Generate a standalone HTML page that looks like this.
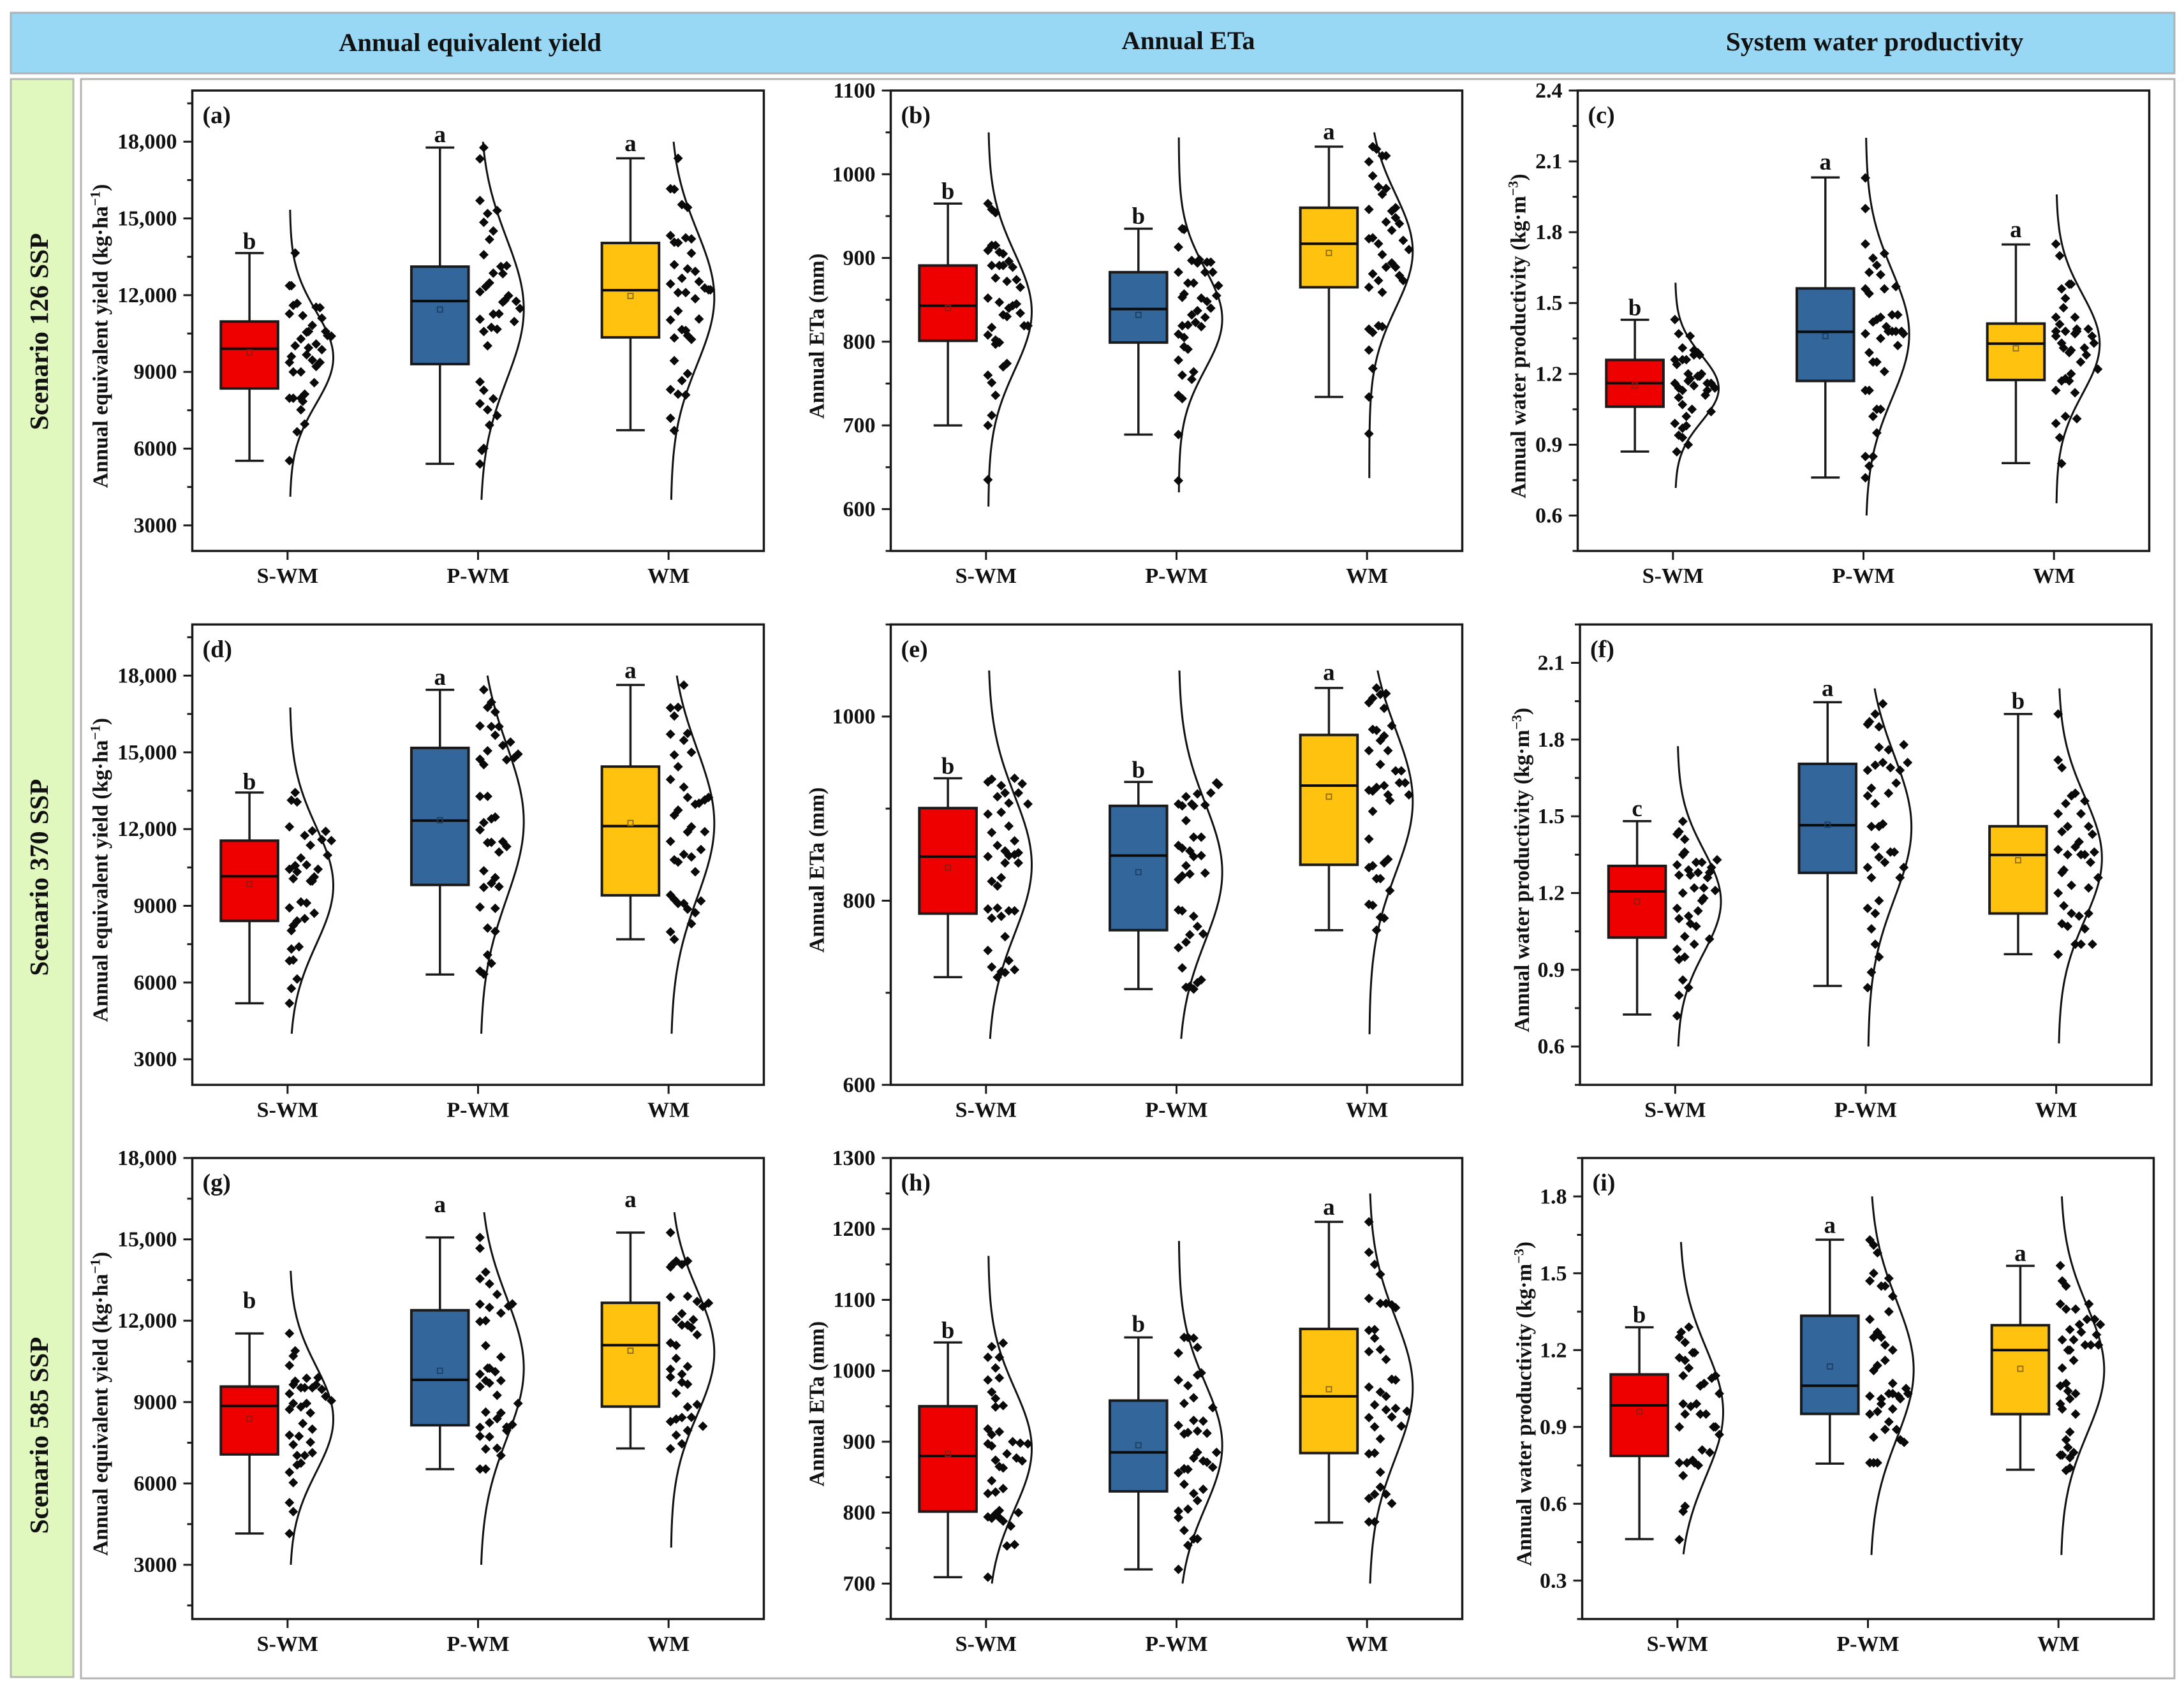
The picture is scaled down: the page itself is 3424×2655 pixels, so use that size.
<!DOCTYPE html>
<html lang="en">
<head>
<meta charset="utf-8">
<title>Annual equivalent yield, ETa and system water productivity by scenario</title>
<style>
html,body{margin:0;padding:0;background:#fff}
svg{display:block}
text{font-family:"Liberation Serif",serif;font-weight:bold;fill:#111}
</style>
</head>
<body>
<svg id="figure" xmlns="http://www.w3.org/2000/svg" width="3424" height="2655" viewBox="0 0 3424 2655">
<rect x="0" y="0" width="3424" height="2655" fill="#fff"/>
<rect x="17" y="20" width="3392" height="95" fill="#98d8f5" stroke="#a9b3b8" stroke-width="3"/>
<text x="737" y="80" font-size="40.5" text-anchor="middle">Annual equivalent yield</text>
<text x="1863" y="77" font-size="40.5" text-anchor="middle">Annual ETa</text>
<text x="2939" y="79" font-size="41.5" text-anchor="middle">System water productivity</text>
<rect x="17" y="124" width="98" height="2506" fill="#e0f7bd" stroke="#b4bcb0" stroke-width="3"/>
<text transform="translate(75,520) rotate(-90)" font-size="41.5" text-anchor="middle">Scenario 126 SSP</text>
<text transform="translate(75,1376) rotate(-90)" font-size="41.5" text-anchor="middle">Scenario 370 SSP</text>
<text transform="translate(75,2251) rotate(-90)" font-size="41.5" text-anchor="middle">Scenario 585 SSP</text>
<rect x="127" y="124" width="3282" height="2508" fill="#fff" stroke="#b4b4b4" stroke-width="3"/>
<g id="panels"></g>
</svg>
<script>
// Shared category data
const categories = ['S-WM', 'P-WM', 'WM'];
const boxColors = ['#ee0000', '#33669a', '#ffc20e'];
const meanColors = ['#8e1a10', '#1c3f66', '#8a6a12'];
const yieldTitle = ['Annual equivalent yield (kg·ha', '−1'];
const etaTitle = ['Annual ETa (mm)', ''];
const wpTitle = ['Annual water productivity (kg·m', '−3'];

// Axis ticks and ranges
const aRange = [2000, 20000];
const aTicks = [3000, 6000, 9000, 12000, 15000, 18000];
const aTickLabels = ['3000', '6000', '9000', '12,000', '15,000', '18,000'];
const bRange = [550, 1100];
const bTicks = [600, 700, 800, 900, 1000, 1100];
const bTickLabels = ['600', '700', '800', '900', '1000', '1100'];
const cRange = [0.45, 2.4];
const cTicks = [0.6, 0.9, 1.2, 1.5, 1.8, 2.1, 2.4];
const cTickLabels = ['0.6', '0.9', '1.2', '1.5', '1.8', '2.1', '2.4'];
const dRange = [2000, 20000];
const dTicks = [3000, 6000, 9000, 12000, 15000, 18000];
const dTickLabels = ['3000', '6000', '9000', '12,000', '15,000', '18,000'];
const eRange = [600, 1100];
const eTicks = [600, 800, 1000];
const eTickLabels = ['600', '800', '1000'];
const fRange = [0.45, 2.25];
const fTicks = [0.6, 0.9, 1.2, 1.5, 1.8, 2.1];
const fTickLabels = ['0.6', '0.9', '1.2', '1.5', '1.8', '2.1'];
const gRange = [1000, 18000];
const gTicks = [3000, 6000, 9000, 12000, 15000, 18000];
const gTickLabels = ['3000', '6000', '9000', '12,000', '15,000', '18,000'];
const hRange = [650, 1300];
const hTicks = [700, 800, 900, 1000, 1100, 1200, 1300];
const hTickLabels = ['700', '800', '900', '1000', '1100', '1200', '1300'];
const iRange = [0.15, 1.95];
const iTicks = [0.3, 0.6, 0.9, 1.2, 1.5, 1.8];
const iTickLabels = ['0.3', '0.6', '0.9', '1.2', '1.5', '1.8'];

// Box statistics: [whisker low, Q1, median, Q3, whisker high, mean]
const aBoxes = [[5526,8354,9910,10970,13645,9760],[5405,9306,11770,13116,17773,11438],[6720,10350,12194,14040,17350,11970]];
const bBoxes = [[700,801,843,891,965,840],[689,799,839,883,935,832],[734,865,917,960,1033,906]];
const cBoxes = [[.871,1.061,1.161,1.259,1.429,1.151],[.761,1.17,1.378,1.562,2.032,1.36],[.822,1.174,1.328,1.413,1.748,1.308]];
const dBoxes = [[5190,8410,10155,11548,13428,9857],[6313,9817,12333,15173,17445,12346],[7693,9410,12116,14443,17635,12238]];
const eBoxes = [[717,786,848,900.6,933,836],[704,768,849,903,929,831],[768,839,925,980,1031,913]];
const fBoxes = [[.725,1.026,1.206,1.306,1.481,1.167],[.837,1.279,1.465,1.705,1.946,1.467],[.961,1.12,1.349,1.461,1.9,1.328]];
const gBoxes = [[4154,7070,8860,9573,11530,8380],[6526,8146,9820,12386,15070,10156],[7290,8834,11100,12660,15250,10895]];
const hBoxes = [[709,801.5,880,950,1040,883],[720,830,885,958,1047,895],[786,884,964,1059,1210,974]];
const iBoxes = [[.462,.787,.984,1.105,1.289,.96],[.757,.951,1.061,1.334,1.631,1.136],[.733,.95,1.2,1.297,1.529,1.127]];

// Significance letters and the value each is centred on
const aLetters = ['b','a','a'];
const aLetterValues = [14100,18180,17830];
const bLetters = ['b','b','a'];
const bLetterValues = [979.5,950,1048];
const cLetters = ['b','a','a'];
const cLetterValues = [1.48,2.087,1.8];
const dLetters = ['b','a','a'];
const dLetterValues = [13850,17840,18100];
const eLetters = ['b','b','a'];
const eLetterValues = [946,942,1045];
const fLetters = ['c','a','b'];
const fLetterValues = [1.52,1.99,1.95];
const gLetters = ['b','a','a'];
const gLetterValues = [12750,16185,16380];
const hLetters = ['b','b','a'];
const hLetterValues = [1057,1066,1227];
const iLetters = ['b','a','a'];
const iLetterValues = [1.338,1.678,1.568];

// Density curves: [mean, standard deviation, lowest value, highest value]
const aCurves = [[9560,1800,4120,15340],[11450,2760,4000,18000],[11900,2600,4000,18000]];
const bCurves = [[836,70,603,1050],[827,60,620,1044],[908,68,637,1050]];
const cCurves = [[1.138,.14,.717,1.586],[1.367,.27,.6,2.2],[1.326,.21,.652,1.96]];
const dCurves = [[9790,2300,4000,16755],[12290,3000,4000,18000],[12220,2900,4000,18000]];
const eCurves = [[839,75,650,1050],[831,75,650,1050],[908,78,655,1050]];
const fCurves = [[1.167,.2,.6,1.774],[1.457,.28,.6,2.0],[1.336,.24,.612,2.0]];
const gCurves = [[8367,1950,3000,13840],[10250,2600,3000,16000],[10830,2300,3635,16000]];
const hCurves = [[890,85,700,1162],[895,88,700,1183],[976,98,700,1250]];
const iCurves = [[.958,.25,.403,1.622],[1.123,.27,.4,1.8],[1.123,.25,.4,1.8]];

// Scatter points: [horizontal jitter in hundredths of a category step, value]
const aPointsS = [[4,13650],[1,12370],[2,12370],[3,11600],[5,11680],[15,11530],[17,11510],[1,11270],[8,11200],[18,11100],[13,10820],[11,10580],[10,10550],[20,10580],[21,10420],[23,10400],[7,10290],[15,10090],[4,10020],[11,9940],[18,9870],[2,9600],[10,9670],[13,9460],[17,9370],[1,9370],[15,9210],[3,9000],[7,9000],[14,8580],[1,7970],[3,7970],[7,7970],[9,8130],[8,7850],[7,7520],[9,6960],[5,6660],[1,5530]];
const aPointsP = [[3,17770],[1,17330],[1,15700],[5,15190],[10,15310],[3,14850],[8,14510],[6,14180],[3,13580],[15,13150],[12,13120],[8,12860],[13,12840],[6,12480],[4,12330],[1,12130],[16,11980],[14,11790],[13,11730],[20,11760],[22,11480],[8,11260],[11,11270],[1,11060],[19,10970],[7,10740],[10,10670],[3,10580],[5,10020],[1,8610],[3,8280],[8,7950],[1,7760],[5,7520],[10,7290],[6,6920],[3,6010],[2,5930],[1,5400]];
const aPointsW = [[5,17350],[1,16160],[3,16140],[7,15540],[10,15430],[1,14330],[9,14240],[12,14200],[3,14070],[5,14050],[12,13640],[3,13190],[10,13030],[14,12930],[7,12660],[16,12530],[1,12440],[19,12280],[21,12210],[22,12210],[5,12100],[9,12100],[14,11860],[5,11380],[16,11070],[1,11030],[7,10650],[9,10620],[10,10420],[12,10270],[3,10330],[3,9440],[10,8930],[7,8660],[1,8310],[5,8130],[9,8100],[1,7190],[3,6710]];
const bPointsS = [[1,965],[3,958],[5,954],[1,909],[3,915],[5,915],[7,907],[9,905],[3,891],[7,891],[9,891],[12,896],[14,889],[5,876],[11,872],[16,874],[18,865],[1,852],[7,847],[16,845],[14,843],[12,840],[9,832],[11,830],[18,834],[20,819],[22,819],[3,817],[1,808],[5,802],[6,800],[5,797],[7,799],[11,774],[9,770],[1,760],[3,751],[5,736],[3,712],[1,700],[1,635]];
const bPointsP = [[3,935],[4,934],[1,913],[1,883],[8,897],[11,894],[12,898],[16,895],[18,895],[15,883],[19,883],[6,870],[9,870],[22,867],[4,857],[3,853],[21,855],[13,852],[16,848],[11,837],[18,840],[8,832],[15,829],[10,823],[3,819],[6,820],[13,818],[1,809],[4,805],[4,794],[6,791],[1,778],[9,764],[3,760],[8,755],[1,736],[3,732],[1,689],[1,634]];
const bPointsW = [[3,1033],[5,1030],[8,1022],[10,1022],[1,1015],[3,998],[6,985],[10,983],[8,976],[1,958],[13,956],[15,960],[15,948],[10,943],[17,941],[13,933],[1,923],[3,924],[6,917],[19,921],[22,910],[8,904],[13,894],[10,889],[15,889],[3,881],[17,879],[19,873],[6,873],[1,865],[8,859],[1,815],[3,811],[6,819],[8,818],[1,790],[3,768],[1,734],[1,690]];
const cPointsS = [[1,1.43],[3,1.37],[9,1.36],[5,1.31],[11,1.30],[13,1.29],[11,1.28],[14,1.28],[1,1.26],[2,1.24],[5,1.26],[7,1.26],[8,1.20],[15,1.20],[14,1.19],[13,1.19],[9,1.18],[8,1.17],[11,1.15],[18,1.16],[20,1.16],[1,1.16],[3,1.14],[5,1.13],[22,1.14],[18,1.13],[17,1.11],[3,1.10],[5,1.07],[10,1.05],[20,1.04],[7,1.02],[1,.99],[7,.98],[5,.97],[3,.94],[5,.93],[8,.90],[2,.87]];
const cPointsP = [[1,2.03],[1,1.90],[1,1.75],[11,1.71],[5,1.69],[7,1.66],[3,1.63],[9,1.62],[1,1.56],[3,1.54],[11,1.56],[17,1.57],[15,1.45],[18,1.45],[9,1.44],[7,1.43],[5,1.42],[12,1.40],[13,1.38],[15,1.38],[17,1.38],[20,1.38],[21,1.37],[1,1.37],[9,1.35],[18,1.32],[3,1.29],[5,1.25],[7,1.25],[11,1.21],[1,1.13],[3,1.13],[7,1.05],[9,1.05],[5,1.02],[7,.95],[1,.85],[5,.85],[3,.81],[1,.76]];
const cPointsW = [[1,1.75],[3,1.70],[8,1.58],[9,1.58],[4,1.56],[6,1.52],[5,1.48],[11,1.44],[1,1.44],[3,1.41],[12,1.39],[18,1.39],[6,1.38],[1,1.38],[11,1.37],[12,1.38],[20,1.36],[1,1.36],[4,1.33],[21,1.33],[5,1.31],[9,1.30],[16,1.31],[8,1.29],[17,1.28],[14,1.25],[23,1.22],[9,1.20],[6,1.18],[8,1.17],[4,1.17],[1,1.13],[11,1.12],[6,1.02],[12,1.01],[1,.99],[3,.93],[4,.82]];
const dPointsS = [[4,13430],[2,13130],[5,13060],[1,12090],[20,11910],[13,11930],[9,11750],[18,11590],[23,11550],[12,11370],[21,10980],[7,10870],[10,10600],[4,10570],[1,10430],[16,10430],[5,10330],[3,10060],[14,10130],[13,9970],[12,9970],[7,9150],[10,9110],[1,8920],[14,8710],[9,8500],[5,8410],[3,8230],[2,8030],[6,7400],[2,7310],[1,6850],[3,6880],[5,6140],[2,5770],[1,5190]];
const dPointsP = [[3,17450],[7,16960],[5,16760],[9,16580],[1,16030],[7,16010],[11,16010],[9,15670],[17,15400],[13,15270],[21,14930],[19,14790],[5,15060],[15,14710],[1,14730],[3,14520],[1,13280],[5,13280],[9,12470],[7,12400],[3,12250],[1,11970],[5,11470],[7,11480],[13,11510],[15,11320],[11,11100],[3,10370],[9,10100],[7,9880],[3,9720],[11,9750],[1,8950],[9,8900],[5,8130],[9,8000],[5,7080],[7,6750],[1,6450],[3,6330]];
const dPointsW = [[8,17630],[1,16740],[5,16760],[3,16420],[1,15710],[10,15740],[8,15470],[12,15000],[3,14900],[5,14440],[1,13940],[8,13640],[10,13240],[21,13240],[19,13140],[16,13010],[14,12970],[5,12740],[3,12540],[12,12090],[10,11890],[19,11900],[1,11520],[17,11200],[8,11010],[12,10910],[3,10800],[5,10710],[14,10330],[1,9420],[3,9250],[5,9090],[8,9090],[17,9190],[10,8870],[14,8730],[12,8300],[1,7980],[3,7690]];
const ePointsS = [[1,929],[3,932],[15,933],[19,927],[8,925],[10,917],[17,917],[6,913],[12,906],[22,905],[8,896],[1,894],[12,881],[3,874],[15,865],[6,860],[10,854],[17,852],[15,850],[12,849],[1,848],[10,841],[17,841],[8,825],[3,821],[6,816],[1,791],[6,792],[12,789],[15,789],[3,781],[8,783],[10,761],[1,746],[12,735],[3,728],[15,725],[8,723],[10,722],[6,717]];
const ePointsP = [[21,928],[22,926],[11,916],[18,917],[5,913],[1,905],[3,903],[8,905],[9,903],[15,904],[5,887],[9,869],[13,869],[1,860],[3,857],[7,854],[9,848],[13,849],[5,838],[7,829],[15,830],[3,827],[1,823],[1,790],[3,789],[9,783],[11,772],[7,763],[14,764],[5,755],[1,749],[3,727],[13,714],[11,711],[5,706],[7,707],[9,704]];
const ePointsW = [[5,1031],[7,1024],[10,1025],[3,1020],[1,1015],[9,1009],[13,990],[3,986],[5,985],[9,979],[7,974],[1,963],[11,963],[7,948],[15,941],[18,941],[17,928],[20,928],[1,920],[3,919],[5,923],[9,925],[22,915],[11,915],[12,909],[3,897],[1,867],[11,845],[9,841],[3,838],[1,836],[7,824],[5,824],[12,811],[1,796],[3,795],[7,782],[9,781],[5,768]];
const fPointsS = [[4,1.48],[2,1.44],[1,1.43],[5,1.41],[5,1.36],[4,1.35],[22,1.33],[1,1.31],[11,1.32],[14,1.32],[19,1.30],[7,1.29],[12,1.28],[2,1.27],[8,1.27],[18,1.28],[17,1.26],[15,1.22],[10,1.22],[21,1.21],[4,1.20],[15,1.18],[14,1.17],[1,1.14],[12,1.13],[7,1.11],[2,1.10],[8,1.08],[11,1.07],[5,1.03],[18,1.02],[10,1.00],[1,.98],[5,.95],[2,.94],[4,.86],[7,.83],[2,.80],[1,.72]];
const fPointsP = [[9,1.94],[5,1.90],[2,1.87],[1,1.86],[7,1.85],[20,1.78],[7,1.77],[12,1.76],[22,1.71],[9,1.71],[5,1.70],[13,1.69],[1,1.68],[18,1.68],[16,1.63],[3,1.61],[1,1.58],[12,1.59],[5,1.55],[9,1.47],[7,1.46],[3,1.46],[5,1.38],[7,1.34],[15,1.36],[13,1.36],[10,1.32],[20,1.30],[1,1.30],[3,1.26],[18,1.26],[7,1.17],[1,1.14],[5,1.12],[3,1.06],[5,1.00],[7,.95],[3,.89],[1,.83]];
const fPointsW = [[1,1.90],[1,1.72],[3,1.69],[10,1.59],[8,1.58],[15,1.56],[5,1.55],[1,1.51],[13,1.51],[17,1.46],[6,1.46],[3,1.44],[19,1.43],[12,1.40],[10,1.38],[1,1.37],[20,1.36],[6,1.35],[13,1.35],[15,1.35],[18,1.32],[4,1.29],[3,1.28],[22,1.26],[8,1.23],[17,1.22],[1,1.20],[4,1.15],[8,1.12],[12,1.11],[17,1.12],[3,1.08],[6,1.07],[15,1.06],[10,1.00],[13,1.00],[19,1.00],[1,.96]];
const gPointsS = [[1,11530],[4,10890],[3,10700],[1,10350],[16,9900],[10,9880],[4,9770],[3,9640],[7,9530],[9,9530],[13,9530],[15,9640],[1,9310],[18,9470],[20,9210],[23,9050],[3,8950],[7,8820],[10,8950],[1,8730],[12,8600],[8,8210],[13,8000],[1,7780],[6,7740],[3,7430],[12,7520],[13,7130],[9,7030],[5,7030],[7,6750],[5,6680],[1,6410],[3,6030],[1,5290],[3,4960],[1,4150]];
const gPointsP = [[1,15070],[1,14670],[4,13790],[1,13550],[6,13360],[10,12970],[18,12620],[16,12540],[1,12610],[6,12490],[12,12280],[1,11970],[4,12000],[4,11080],[12,10660],[5,10250],[6,10250],[9,10120],[1,10030],[4,9790],[6,9700],[12,9790],[1,9570],[10,9250],[21,8950],[4,8630],[12,8600],[10,8390],[6,8240],[18,8170],[15,8080],[1,8070],[15,7950],[1,7740],[6,7720],[4,7270],[10,7300],[12,7030],[1,6530],[4,6530]];
const gPointsW = [[1,15250],[4,14200],[10,14200],[2,14070],[1,13980],[7,14070],[1,12870],[10,12900],[15,12710],[21,12650],[18,12520],[7,12260],[13,12040],[4,12050],[7,11840],[10,11840],[12,11740],[15,11480],[1,11180],[4,11090],[4,10610],[10,10310],[1,10210],[1,9920],[7,10030],[7,9730],[10,9660],[4,9330],[15,8910],[10,8820],[12,8440],[7,8430],[4,8370],[1,8280],[18,8110],[10,7950],[4,7780],[7,7460],[1,7280]];
const hPointsS = [[9,1039],[3,1034],[1,1019],[7,1019],[5,1004],[1,987],[7,990],[3,970],[5,961],[5,949],[9,951],[1,918],[7,914],[3,910],[14,900],[18,898],[22,897],[1,897],[3,894],[11,883],[16,877],[5,874],[19,873],[7,865],[9,863],[3,845],[9,834],[5,829],[1,827],[17,800],[7,803],[5,798],[1,794],[3,792],[7,793],[9,788],[13,781],[11,753],[15,755],[1,709]];
const hPointsP = [[4,1047],[6,1047],[9,1046],[11,1033],[1,1025],[13,997],[11,994],[1,987],[6,979],[9,962],[4,954],[19,948],[9,930],[14,929],[1,923],[11,915],[4,911],[6,913],[16,912],[11,885],[21,885],[9,877],[14,873],[16,871],[19,864],[4,862],[6,861],[1,856],[4,840],[14,833],[9,827],[11,817],[6,805],[1,802],[1,793],[4,775],[9,763],[11,763],[6,754],[1,720]];
const hPointsW = [[1,1210],[1,1167],[4,1150],[7,1136],[1,1102],[7,1095],[10,1095],[13,1093],[15,1089],[1,1057],[4,1058],[4,1046],[1,1027],[7,1030],[10,1016],[13,988],[15,987],[1,977],[7,970],[10,964],[4,952],[15,947],[10,945],[21,943],[1,934],[13,935],[4,921],[18,922],[7,904],[1,883],[4,884],[7,857],[7,836],[4,826],[1,820],[10,826],[13,813],[1,787],[4,787]];
const iPointsS = [[6,1.29],[2,1.27],[1,1.25],[4,1.23],[9,1.19],[8,1.19],[1,1.17],[4,1.16],[6,1.13],[3,1.10],[20,1.10],[18,1.09],[14,1.07],[12,1.06],[22,1.03],[10,.99],[7,.98],[3,.99],[4,.95],[12,.95],[15,.95],[1,.90],[19,.90],[20,.90],[22,.87],[13,.81],[17,.80],[1,.76],[5,.76],[8,.77],[9,.76],[11,.75],[3,.71],[4,.59],[3,.57],[1,.46]];
const iPointsP = [[1,1.63],[3,1.61],[5,1.58],[3,1.50],[1,1.47],[11,1.48],[7,1.45],[9,1.45],[13,1.41],[11,1.35],[1,1.32],[5,1.27],[3,1.25],[7,1.25],[9,1.22],[13,1.20],[9,1.16],[5,1.14],[3,1.12],[13,1.07],[20,1.05],[21,1.03],[11,1.03],[13,1.03],[16,1.02],[17,1.01],[1,1.02],[7,1.01],[7,.99],[13,.97],[1,.95],[5,.96],[11,.92],[9,.89],[15,.89],[3,.86],[17,.85],[19,.84],[1,.76],[3,.76],[5,.76]];
const iPointsW = [[1,1.53],[2,1.47],[4,1.45],[16,1.38],[1,1.38],[4,1.36],[9,1.36],[15,1.32],[19,1.32],[11,1.30],[22,1.30],[6,1.28],[12,1.27],[20,1.26],[2,1.24],[8,1.24],[6,1.20],[14,1.22],[17,1.22],[21,1.22],[5,1.20],[8,1.16],[2,1.13],[4,1.07],[1,1.06],[5,1.04],[9,1.03],[6,1.01],[1,.99],[2,.97],[9,.95],[6,.88],[4,.85],[5,.82],[8,.80],[1,.79],[2,.79],[6,.78],[4,.73],[6,.74]];

const NS = 'http://www.w3.org/2000/svg';
const INK = '#1a1a1a';
const root = document.getElementById('panels');

function mk(tag, attrs, parent) {
  const el = document.createElementNS(NS, tag);
  for (const k in attrs) el.setAttribute(k, attrs[k]);
  parent.appendChild(el);
  return el;
}

function drawPanel(p) {
  const w = 896;
  const y = v => p.top + (p.range[1] - v) / (p.range[1] - p.range[0]) * p.h;
  const x = (i, off) => p.left + (i + 0.5 + off / 100) * w / 3;

  const panel = mk('g', {}, root);
  
  

  const step = p.ticks[1] - p.ticks[0];
  const ticksGroup = mk('g', {stroke: INK, 'stroke-width': 3}, panel);
  
  
  p.ticks.forEach((v, n) => {
    const t = mk('line', {x1: p.left - 14, x2: p.left, y1: y(v), y2: y(v)}, ticksGroup);
    
    
    const lab = mk('text', {x: p.left - 24, y: y(v) + 11, 'font-size': 34, 'text-anchor': 'end', stroke: 'none'}, panel);
    
    
    lab.textContent = p.labels[n];
  });
  const minors = [p.ticks[0] - step / 2].concat(p.ticks.map(v => v + step / 2));
  minors.forEach(v => {
    if (v < p.range[0] - 1e-9 || v > p.range[1] + 1e-9) return;
    const t = mk('line', {x1: p.left - 8, x2: p.left, y1: y(v), y2: y(v)}, ticksGroup);
    
    
  });

  categories.forEach((cat, i) => {
    const tx = x(i, 0);
    const t = mk('line', {x1: tx, x2: tx, y1: p.top + p.h, y2: p.top + p.h + 14}, ticksGroup);
    
    
    const lab = mk('text', {x: tx, y: p.top + p.h + 50, 'font-size': 34, 'text-anchor': 'middle', stroke: 'none'}, panel);
    
    
    lab.textContent = cat;

    const group = mk('g', {}, panel);
    
    

    const curve = p.curves[i];
    let d = '';
    for (let k = 0; k <= 90; k++) {
      const v = curve[2] + (curve[3] - curve[2]) * k / 90;
      const z = (v - curve[0]) / curve[1];
      d += (k ? 'L' : 'M') + x(i, 1.2 + 22.8 * Math.exp(-0.5 * z * z)).toFixed(2) + ' ' + y(v).toFixed(2);
    }
    const c = mk('path', {d: d, fill: 'none', stroke: '#111', 'stroke-width': 3}, group);
    
    

    p.points[i].forEach(pt => {
      const px = x(i, pt[0]);
      const py = y(pt[1]);
      const r = 7.5;
      const m = mk('path', {d: 'M' + px + ' ' + (py - r) + 'L' + (px + r) + ' ' + py + 'L' + px + ' ' + (py + r) + 'L' + (px - r) + ' ' + py + 'Z', fill: '#0a0a0a'}, group);
      
      
    });

    const b = p.boxes[i];
    const bx = x(i, -20);
    const half = 15;
    const whisker = mk('line', {x1: bx, x2: bx, y1: y(b[4]), y2: y(b[0]), stroke: INK, 'stroke-width': 3.5}, group);
    
    
    [b[0], b[4]].forEach(v => {
      const cap = mk('line', {x1: x(i, -27.5), x2: x(i, -12.5), y1: y(v), y2: y(v), stroke: INK, 'stroke-width': 3.5}, group);
      
      
    });
    const box = mk('rect', {x: x(i, -20 - half), width: x(i, -20 + half) - x(i, -20 - half), y: y(b[3]), height: y(b[1]) - y(b[3]), fill: boxColors[i], stroke: INK, 'stroke-width': 4}, group);
    
    
    const med = mk('line', {x1: x(i, -20 - half), x2: x(i, -20 + half), y1: y(b[2]), y2: y(b[2]), stroke: '#0a0a0a', 'stroke-width': 4}, group);
    
    
    const mean = mk('rect', {x: bx - 4, y: y(b[5]) - 4, width: 8, height: 8, fill: 'none', stroke: meanColors[i], 'stroke-width': 1.8}, group);
    
    

    const letter = p.letters[i];
    const lift = letter === 'b' ? 12 : 8;
    const sig = mk('text', {x: bx, y: y(p.letterValues[i]) + lift, 'font-size': 37, 'text-anchor': 'middle'}, group);
    
    
    sig.textContent = letter;
  });

  const frame = mk('rect', {x: p.left, y: p.top, width: w, height: p.h, fill: 'none', stroke: INK, 'stroke-width': 3.5}, panel);
  
  

  const tag = mk('text', {x: p.left + 16, y: p.top + 51, 'font-size': 38}, panel);
  
  
  tag.textContent = '(' + p.id + ')';

  const tx = p.left - p.titleGap;
  const ty = p.top + p.h / 2 + 24;
  const title = mk('text', {transform: 'translate(' + tx + ',' + ty + ') rotate(-90)', 'font-size': 33.5, 'text-anchor': 'middle'}, panel);
  
  
  title.appendChild(document.createTextNode(p.title[0]));
  if (p.title[1]) {
    const sup = mk('tspan', {dy: -12, 'font-size': 22}, title);
    sup.textContent = p.title[1];
    const close = mk('tspan', {dy: 12}, title);
    close.textContent = ')';
  }
}

const rowTops = [142, 979.3, 1816];
const rowHeights = [722, 722, 723];

drawPanel({id:'a', left:301.5, top:rowTops[0], h:rowHeights[0], titleGap:133, title:yieldTitle, range:aRange, ticks:aTicks, labels:aTickLabels, boxes:aBoxes, letters:aLetters, letterValues:aLetterValues, curves:aCurves, points:[aPointsS,aPointsP,aPointsW]});
drawPanel({id:'b', left:1396.5, top:rowTops[0], h:rowHeights[0], titleGap:105, title:etaTitle, range:bRange, ticks:bTicks, labels:bTickLabels, boxes:bBoxes, letters:bLetters, letterValues:bLetterValues, curves:bCurves, points:[bPointsS,bPointsP,bPointsW]});
drawPanel({id:'c', left:2473.5, top:rowTops[0], h:rowHeights[0], titleGap:82, title:wpTitle, range:cRange, ticks:cTicks, labels:cTickLabels, boxes:cBoxes, letters:cLetters, letterValues:cLetterValues, curves:cCurves, points:[cPointsS,cPointsP,cPointsW]});
drawPanel({id:'d', left:301.5, top:rowTops[1], h:rowHeights[1], titleGap:133, title:yieldTitle, range:dRange, ticks:dTicks, labels:dTickLabels, boxes:dBoxes, letters:dLetters, letterValues:dLetterValues, curves:dCurves, points:[dPointsS,dPointsP,dPointsW]});
drawPanel({id:'e', left:1396.5, top:rowTops[1], h:rowHeights[1], titleGap:105, title:etaTitle, range:eRange, ticks:eTicks, labels:eTickLabels, boxes:eBoxes, letters:eLetters, letterValues:eLetterValues, curves:eCurves, points:[ePointsS,ePointsP,ePointsW]});
drawPanel({id:'f', left:2477, top:rowTops[1], h:rowHeights[1], titleGap:80, title:wpTitle, range:fRange, ticks:fTicks, labels:fTickLabels, boxes:fBoxes, letters:fLetters, letterValues:fLetterValues, curves:fCurves, points:[fPointsS,fPointsP,fPointsW]});
drawPanel({id:'g', left:301.5, top:rowTops[2], h:rowHeights[2], titleGap:133, title:yieldTitle, range:gRange, ticks:gTicks, labels:gTickLabels, boxes:gBoxes, letters:gLetters, letterValues:gLetterValues, curves:gCurves, points:[gPointsS,gPointsP,gPointsW]});
drawPanel({id:'h', left:1396.5, top:rowTops[2], h:rowHeights[2], titleGap:105, title:etaTitle, range:hRange, ticks:hTicks, labels:hTickLabels, boxes:hBoxes, letters:hLetters, letterValues:hLetterValues, curves:hCurves, points:[hPointsS,hPointsP,hPointsW]});
drawPanel({id:'i', left:2480.5, top:rowTops[2], h:rowHeights[2], titleGap:80, title:wpTitle, range:iRange, ticks:iTicks, labels:iTickLabels, boxes:iBoxes, letters:iLetters, letterValues:iLetterValues, curves:iCurves, points:[iPointsS,iPointsP,iPointsW]});
</script>
</body>
</html>
